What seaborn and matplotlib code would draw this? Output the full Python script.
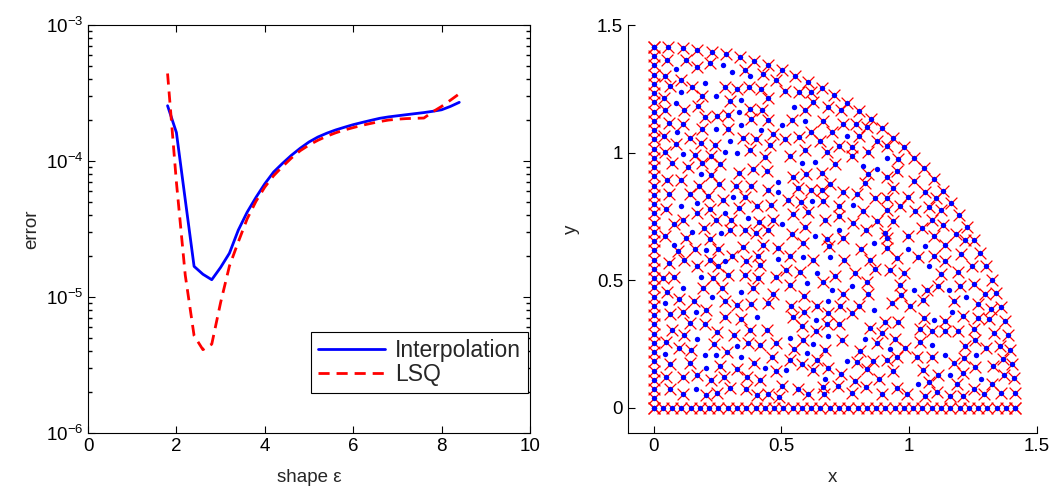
import numpy as np
import pandas as pd
import matplotlib
matplotlib.use("Agg")
import matplotlib.pyplot as plt
import seaborn as sns
from matplotlib.ticker import LogLocator, NullFormatter

# ---------------- left panel data ----------------
shape_eps = [1.8, 2.0, 2.2, 2.4, 2.6, 2.8, 3.0, 3.2, 3.4, 3.6, 3.8, 4.0, 4.2, 4.4,
             4.6, 4.8, 5.0, 5.2, 5.4, 5.6, 5.8, 6.0, 6.2, 6.4, 6.6, 6.8, 7.0, 7.2,
             7.4, 7.6, 7.8, 8.0, 8.2, 8.4]
err_interp = [2.55e-4, 1.62e-4, 5.2e-5, 1.68e-5, 1.47e-5, 1.34e-5, 1.65e-5, 2.1e-5,
              3.1e-5, 4.2e-5, 5.4e-5, 6.8e-5, 8.3e-5, 9.6e-5, 1.10e-4, 1.24e-4,
              1.38e-4, 1.50e-4, 1.60e-4, 1.69e-4, 1.77e-4, 1.85e-4, 1.92e-4, 1.99e-4,
              2.06e-4, 2.11e-4, 2.15e-4, 2.19e-4, 2.23e-4, 2.27e-4, 2.32e-4, 2.38e-4,
              2.52e-4, 2.70e-4]
err_lsq = [4.4e-4, 7.0e-5, 1.45e-5, 5.2e-6, 4.1e-6, 4.5e-6, 9.1e-6, 1.69e-5,
           2.54e-5, 3.75e-5, 5.05e-5, 6.43e-5, 7.8e-5, 9.1e-5, 1.05e-4, 1.19e-4,
           1.31e-4, 1.42e-4, 1.52e-4, 1.61e-4, 1.69e-4, 1.76e-4, 1.83e-4, 1.89e-4,
           1.95e-4, 2.00e-4, 2.03e-4, 2.05e-4, 2.06e-4, 2.07e-4, 2.30e-4, 2.52e-4,
           2.80e-4, 3.12e-4]

# ---------------- right panel data ----------------
radius = 1.414
edge_pos = [0.000, 0.036, 0.073, 0.109, 0.145, 0.181, 0.218, 0.254, 0.290, 0.326,
            0.363, 0.399, 0.435, 0.471, 0.508, 0.544, 0.580, 0.616, 0.653, 0.689,
            0.725, 0.761, 0.798, 0.834, 0.870, 0.907, 0.943, 0.979, 1.015, 1.052,
            1.088, 1.124, 1.160, 1.197, 1.233, 1.269, 1.305, 1.342, 1.378, 1.414]
arc_deg = [0.00, 2.31, 4.62, 6.92, 9.23, 11.54, 13.85, 16.15, 18.46, 20.77,
           23.08, 25.38, 27.69, 30.00, 32.31, 34.62, 36.92, 39.23, 41.54, 43.85,
           46.15, 48.46, 50.77, 53.08, 55.38, 57.69, 60.00, 62.31, 64.62, 66.92,
           69.23, 71.54, 73.85, 76.15, 78.46, 80.77, 83.08, 85.38, 87.69, 90.00]

# interior points marked with both a dot and a cross
cross_pts = [
    (0.052,1.364),(0.128,1.364),(0.219,1.351),(0.171,1.336),(0.359,1.325),(0.428,1.308),(0.043,1.299),
    (0.108,1.286),(0.478,1.286),(0.151,1.257),(0.065,1.260),(0.278,1.257),(0.327,1.249),(0.374,1.257),
    (0.422,1.249),(0.189,1.221),(0.040,1.214),(0.298,1.201),(0.448,1.214),(0.174,1.181),(0.376,1.172),
    (0.426,1.166),(0.043,1.168),(0.119,1.166),(0.200,1.140),(0.249,1.142),(0.291,1.149),(0.380,1.132),
    (0.448,1.129),(0.059,1.116),(0.115,1.112),(0.191,1.094),(0.291,1.094),(0.468,1.074),(0.039,1.064),
    (0.141,1.057),(0.350,1.057),(0.400,1.051),(0.187,1.038),(0.086,1.035),(0.239,1.031),(0.455,1.031),
    (0.376,1.011),
    (0.514,1.243),(0.570,1.236),(0.614,1.236),(0.625,1.197),(0.592,1.166),(0.684,1.179),(0.733,1.166),
    (0.540,1.129),(0.661,1.125),(0.740,1.113),(0.792,1.113),(0.834,1.100),(0.514,1.053),(0.570,1.060),
    (0.614,1.079),(0.697,1.079),(0.804,1.064),(0.873,1.044),(0.651,1.044),(0.727,1.027),(0.775,1.022),
    (0.912,1.027),(0.592,1.011),(0.677,1.001),(0.840,1.001),
    (0.043,1.002),(0.164,0.992),(0.223,0.986),(0.435,0.983),(0.073,0.960),(0.134,0.944),(0.191,0.960),
    (0.259,0.953),(0.226,0.910),(0.334,0.920),(0.389,0.937),(0.442,0.927),(0.052,0.894),(0.108,0.894),
    (0.177,0.868),(0.256,0.875),(0.324,0.868),(0.383,0.868),(0.448,0.853),(0.062,0.839),(0.143,0.839),
    (0.213,0.829),(0.357,0.825),(0.049,0.779),(0.272,0.813),(0.334,0.783),(0.405,0.790),(0.461,0.796),
    (0.170,0.761),(0.222,0.779),(0.115,0.737),(0.243,0.737),(0.304,0.737),(0.413,0.727),(0.468,0.737),
    (0.078,0.718),(0.196,0.702),(0.298,0.698),(0.357,0.698),(0.448,0.698),(0.043,0.672),(0.128,0.666),
    (0.222,0.662),(0.400,0.683),(0.164,0.620),(0.252,0.620),(0.350,0.630),(0.428,0.639),(0.487,0.624),
    (0.095,0.613),(0.308,0.596),(0.409,0.596),(0.059,0.568),(0.121,0.578),(0.219,0.578),(0.363,0.574),
    (0.171,0.555),(0.252,0.555),(0.418,0.557),(0.079,0.513),(0.036,0.509),(0.232,0.509),(0.291,0.518),
    (0.357,0.518),(0.409,0.509),(0.478,0.513),
    (0.054,0.454),(0.194,0.467),(0.266,0.467),(0.390,0.467),(0.468,0.446),(0.100,0.424),(0.158,0.417),
    (0.279,0.417),(0.328,0.402),(0.381,0.407),(0.449,0.411),
    (0.063,0.365),(0.115,0.374),(0.206,0.382),(0.278,0.356),(0.344,0.346),(0.141,0.332),(0.200,0.326),
    (0.072,0.304),(0.121,0.283),(0.248,0.297),(0.314,0.283),(0.376,0.304),(0.442,0.304),(0.050,0.257),
    (0.099,0.233),(0.148,0.225),(0.235,0.250),(0.288,0.217),(0.370,0.251),(0.416,0.244),(0.478,0.254),
    (0.393,0.176),(0.465,0.198),(0.063,0.169),(0.141,0.176),(0.259,0.163),(0.328,0.150),(0.478,0.143),
    (0.050,0.119),(0.115,0.119),(0.171,0.126),(0.226,0.106),(0.276,0.119),(0.367,0.119),(0.418,0.106),
    (0.063,0.071),(0.115,0.054),(0.206,0.048),(0.248,0.055),(0.298,0.078),(0.363,0.071),(0.406,0.048),
    (0.448,0.054),(0.491,0.041),
    (0.533,0.988),(0.775,0.988),(0.958,0.973),(0.710,0.953),(0.952,0.927),(0.544,0.905),(0.596,0.914),
    (0.657,0.918),(0.690,0.875),(0.840,0.914),(0.912,0.905),(0.566,0.859),(0.614,0.853),(0.657,0.853),
    (0.740,0.845),(0.797,0.839),(0.827,0.881),(0.938,0.859),(0.527,0.813),(0.575,0.805),(0.664,0.809),
    (0.727,0.790),(0.867,0.822),(0.912,0.822),(0.997,0.826),(0.605,0.768),(0.727,0.751),(0.821,0.770),
    (0.912,0.774),(0.965,0.790),(0.544,0.757),(0.670,0.737),(0.782,0.724),(0.876,0.731),(0.938,0.731),
    (0.592,0.709),(0.831,0.696),(0.906,0.685),(0.542,0.679),(0.677,0.659),(0.742,0.666),(0.912,0.666),
    (0.997,0.672),(0.583,0.646),(0.687,0.633),(0.810,0.620),(0.912,0.626),(0.533,0.594),(0.625,0.578),
    (0.745,0.578),(0.847,0.578),(0.952,0.587),(0.520,0.541),(0.572,0.531),(0.710,0.515),(0.788,0.528),
    (0.867,0.544),(0.925,0.539),(0.978,0.528),
    (0.533,0.482),(0.661,0.492),(0.836,0.492),(0.965,0.482),(0.588,0.439),(0.742,0.447),(0.840,0.447),
    (0.967,0.443),(0.536,0.400),(0.640,0.400),(0.729,0.400),(0.805,0.400),(0.932,0.408),(0.588,0.375),
    (0.684,0.369),(0.775,0.369),(0.544,0.356),(0.906,0.335),(0.958,0.335),(0.579,0.319),(0.677,0.326),
    (0.727,0.329),(0.847,0.310),(0.893,0.293),(0.635,0.299),(0.586,0.264),(0.736,0.263),(0.873,0.251),
    (0.945,0.269),(0.549,0.230),(0.670,0.225),(0.808,0.221),(0.984,0.234),(0.533,0.188),(0.638,0.188),
    (0.795,0.178),(0.860,0.184),(0.912,0.188),(0.954,0.199),(0.579,0.169),(0.684,0.156),(0.834,0.152),
    (0.622,0.149),(0.938,0.142),(0.880,0.112),(0.732,0.133),(0.788,0.103),(0.501,0.084),(0.566,0.071),
    (0.664,0.081),(0.723,0.086),(0.775,0.058),(0.831,0.081),(0.952,0.077),(0.605,0.051),(0.668,0.051),
    (0.893,0.051),(0.991,0.051),
    (1.017,0.887),(1.060,0.844),(1.104,0.822),(1.076,0.787),(1.125,0.776),(1.021,0.770),(1.089,0.737),
    (1.134,0.717),(1.052,0.704),(1.183,0.682),(1.099,0.674),(1.217,0.655),(1.141,0.639),(1.204,0.602),
    (1.245,0.554),(1.034,0.591),(1.099,0.596),(1.141,0.574),(1.191,0.531),(1.125,0.525),
    (1.111,0.476),(1.070,0.461),(1.198,0.476),(1.255,0.483),(1.298,0.447),(1.054,0.421),(1.177,0.417),
    (1.004,0.398),(1.268,0.404),(1.321,0.385),(1.057,0.352),(1.141,0.339),(1.211,0.359),(1.268,0.352),
    (1.311,0.348),(1.041,0.306),(1.089,0.300),(1.141,0.300),(1.190,0.300),(1.255,0.309),(1.331,0.291),
    (1.043,0.257),(1.220,0.241),(1.259,0.264),(1.302,0.232),(1.357,0.241),(1.030,0.199),(1.089,0.199),
    (1.177,0.176),(1.216,0.195),(1.328,0.162),(1.368,0.191),(1.054,0.149),(1.111,0.126),(1.211,0.136),
    (1.259,0.160),(1.370,0.126),(1.076,0.100),(1.187,0.091),(1.324,0.091),(1.063,0.047),(1.109,0.061),
    (1.158,0.047),(1.211,0.047),(1.253,0.071),(1.294,0.051),(1.360,0.055),
]
# interior points marked with a dot only
dot_pts = [
    (0.272,1.342),(0.086,1.328),(0.308,1.315),(0.379,1.299),(0.200,1.273),(0.108,1.236),(0.243,1.221),
    (0.342,1.207),(0.086,1.194),(0.334,1.158),(0.342,1.108),(0.243,1.094),(0.419,1.087),(0.093,1.079),
    (0.298,1.044),(0.115,0.996),(0.278,1.001),(0.327,0.998),
    (0.549,1.179),(0.501,1.107),(0.592,1.123),(0.755,1.064),
    (0.187,0.917),(0.487,0.885),(0.311,0.825),(0.487,0.845),(0.171,0.803),(0.108,0.790),(0.278,0.764),
    (0.370,0.744),(0.151,0.688),(0.265,0.683),(0.078,0.637),(0.206,0.617),(0.278,0.574),(0.487,0.581),
    (0.184,0.511),
    (0.115,0.467),(0.344,0.454),(0.043,0.411),(0.229,0.433),
    (0.165,0.374),(0.405,0.356),(0.170,0.267),(0.328,0.241),(0.043,0.211),(0.200,0.204),(0.243,0.204),
    (0.344,0.199),(0.206,0.155),(0.435,0.155),(0.165,0.071),
    (0.912,0.979),(0.579,0.957),(0.631,0.962),(0.821,0.947),(0.873,0.934),(0.621,0.809),(0.779,0.796),
    (0.501,0.718),(0.727,0.696),(0.631,0.672),(0.863,0.646),(0.997,0.620),(0.586,0.591),(0.690,0.591),
    (0.638,0.526),
    (0.599,0.489),(0.775,0.476),(0.697,0.460),(0.684,0.417),(0.863,0.382),(0.635,0.345),(0.533,0.273),
    (0.684,0.282),(0.827,0.267),(0.625,0.250),(0.925,0.230),(0.599,0.212),(0.755,0.184),(0.520,0.149),
    (0.670,0.110),
    (1.062,0.632),(1.076,0.554),
    (1.020,0.461),(1.155,0.461),(1.224,0.434),(1.168,0.374),(1.096,0.345),(1.089,0.247),(1.141,0.204),
    (1.263,0.204),(1.161,0.126),(1.281,0.113),(1.033,0.091),
]

# ---------------- build tables ----------------
df_err = pd.DataFrame({"eps": shape_eps, "Interpolation": err_interp, "LSQ": err_lsq})

arc_rad = np.deg2rad(arc_deg)
bx = [0.0] * len(edge_pos) + list(edge_pos) + list(radius * np.cos(arc_rad))
by = list(edge_pos) + [0.0] * len(edge_pos) + list(radius * np.sin(arc_rad))
cx = bx + [p[0] for p in cross_pts]
cy = by + [p[1] for p in cross_pts]
dx = cx + [p[0] for p in dot_pts]
dy = cy + [p[1] for p in dot_pts]
df_cross = pd.DataFrame({"x": cx, "y": cy})
df_dot = pd.DataFrame({"x": dx, "y": dy})

# ---------------- style ----------------
sns.set_theme(style="ticks")
plt.rcParams["font.family"] = ["Liberation Sans", "DejaVu Sans"]
plt.rcParams.update({
    "xtick.direction": "in", "ytick.direction": "in",
    "xtick.major.size": 5, "ytick.major.size": 5,
    "xtick.minor.size": 3, "ytick.minor.size": 3,
    "xtick.major.width": 0.8, "ytick.major.width": 0.8,
    "axes.linewidth": 0.8, "axes.edgecolor": "black",
    "xtick.color": "black", "ytick.color": "black",
    "xtick.labelsize": 13.5, "ytick.labelsize": 13.5,
    "axes.labelsize": 13.5,
})

W, H = 1060, 490
fig = plt.figure(figsize=(W / 100, H / 100), dpi=100)
ax1 = fig.add_axes([88 / W, (H - 433) / H, (530 - 88) / W, (433 - 25) / H])
ax2 = fig.add_axes([628 / W, (H - 433) / H, (1037 - 628) / W, (433 - 25) / H])

# ---------------- left panel ----------------
sns.lineplot(data=df_err, x="eps", y="Interpolation", ax=ax1, color="#0000ff",
             linewidth=2.0, label="Interpolation")
sns.lineplot(data=df_err, x="eps", y="LSQ", ax=ax1, color="#ff0000",
             linewidth=2.0, label="LSQ")
ax1.lines[1].set_dashes((4.0, 2.5))
ax1.set_yscale("log")
ax1.set_xlim(0, 10)
ax1.set_ylim(1e-6, 1e-3)
ax1.set_xticks([0, 2, 4, 6, 8, 10])
ax1.yaxis.set_major_locator(LogLocator(base=10, numticks=10))
ax1.yaxis.set_minor_locator(LogLocator(base=10, subs=np.arange(2, 10), numticks=20))
ax1.yaxis.set_minor_formatter(NullFormatter())
ax1.tick_params(which="both", top=True, right=True)
ax1.set_xlabel("shape ε", labelpad=10)
ax1.set_ylabel("error", labelpad=4)
for s in ax1.spines.values():
    s.set_visible(True)
leg = ax1.legend(loc="lower right", bbox_to_anchor=(0.995, 0.098), fontsize=16.5,
                 frameon=True, fancybox=False, edgecolor="black", framealpha=1,
                 handlelength=2.9, handletextpad=0.45, borderpad=0.3,
                 labelspacing=0.05, borderaxespad=0)
leg.get_frame().set_linewidth(0.8)
leg.get_lines()[1].set_dashes((4.0, 2.5))

# ---------------- right panel ----------------
sns.scatterplot(data=df_cross, x="x", y="y", ax=ax2, marker="x", color="#ff0000",
                s=72, linewidth=0.9, zorder=2)
sns.scatterplot(data=df_dot, x="x", y="y", ax=ax2, marker="o", color="#0000ff",
                s=15, linewidth=0, zorder=3)
ax2.set_xlim(-0.1, 1.5)
ax2.set_ylim(-0.1, 1.5)
ax2.set_xticks([0, 0.5, 1, 1.5])
ax2.set_xticklabels(["0", "0.5", "1", "1.5"])
ax2.set_yticks([0, 0.5, 1, 1.5])
ax2.set_yticklabels(["0", "0.5", "1", "1.5"])
ax2.spines["top"].set_visible(False)
ax2.spines["right"].set_visible(False)
ax2.set_xlabel("x", labelpad=10)
ax2.set_ylabel("y", labelpad=12)

fig.savefig("out.png", dpi=100)
